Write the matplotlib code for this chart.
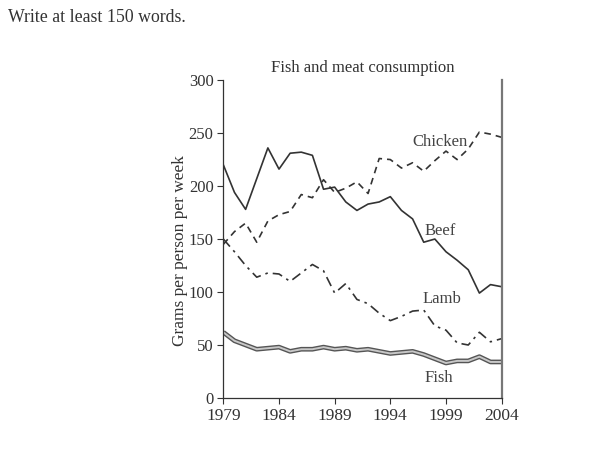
import matplotlib
matplotlib.use("Agg")
import matplotlib.pyplot as plt

years = list(range(1979, 2005))
beef = [220, 194, 178, 207, 236, 216, 231, 232, 229, 197, 199, 185, 177, 183, 185,
        190, 177, 169, 147, 150, 138, 130, 121, 99, 107, 105]
chicken = [145, 157, 165, 147, 167, 173, 176, 192, 189, 206, 194, 198, 204, 193, 226,
           225, 217, 222, 214, 224, 233, 225, 235, 251, 249, 246]
lamb = [150, 138, 125, 114, 118, 117, 110, 118, 126, 120, 99, 108, 93, 89, 80,
        73, 77, 82, 83, 68, 64, 52, 50, 62, 53, 56]
fish = [62, 54, 50, 46, 47, 48, 44, 46, 46, 48, 46, 47, 45, 46, 44,
        42, 43, 44, 41, 37, 33, 35, 35, 39, 34, 34]
xticks = [1979, 1984, 1989, 1994, 1999, 2004]
yticks = [0, 50, 100, 150, 200, 250, 300]

plt.rcParams['font.family'] = ['Liberation Serif', 'DejaVu Serif']

fig = plt.figure(figsize=(6.02, 4.5), dpi=100)
ax = fig.add_axes([0.371, 0.1156, 0.4623, 0.7064])

line_col = '#333333'
ax.plot(years, beef, color=line_col, lw=1.2)
ax.plot(years, chicken, color=line_col, lw=1.2, linestyle=(0, (4, 3)))
ax.plot(years, lamb, color=line_col, lw=1.2, linestyle=(0, (6, 3, 1.5, 3)))
ax.plot(years, fish, color='#555555', lw=3.4, solid_capstyle='butt')
ax.plot(years, fish, color='#c8c8c8', lw=1.4, solid_capstyle='butt')

ax.set_xlim(1979, 2004)
ax.set_ylim(0, 300)
ax.set_xticks(xticks)
ax.set_yticks(yticks)
ax.tick_params(axis='both', direction='out', length=4, width=0.8,
               colors='#333333')
ax.tick_params(axis='x', labelsize=12.5, pad=3)
ax.tick_params(axis='y', labelsize=12, pad=3)
ax.spines['top'].set_visible(False)
ax.spines['left'].set_color('#333333')
ax.spines['left'].set_linewidth(0.9)
ax.spines['bottom'].set_color('#333333')
ax.spines['bottom'].set_linewidth(0.9)
ax.spines['right'].set_color('#777777')
ax.spines['right'].set_linewidth(1.6)

ax.set_ylabel('Grams per person per week', fontsize=12.5, color='#333333')
ax.yaxis.set_label_coords(-0.128, 0.465)
ax.set_title('Fish and meat consumption', fontsize=12, color='#333333', pad=6)

lab_kw = dict(fontsize=12, color='#444444', ha='center', va='center')
ax.text(1998.5, 242, 'Chicken', **lab_kw)
ax.text(1998.5, 158, 'Beef', **lab_kw)
ax.text(1998.6, 93, 'Lamb', **lab_kw)
ax.text(1998.4, 19, 'Fish', **lab_kw)

fig.text(8 / 602, 1 - 17 / 450, 'Write at least 150 words.', fontsize=12.8,
         color='#333333', ha='left', va='center')

fig.savefig('out.png', dpi=100)
